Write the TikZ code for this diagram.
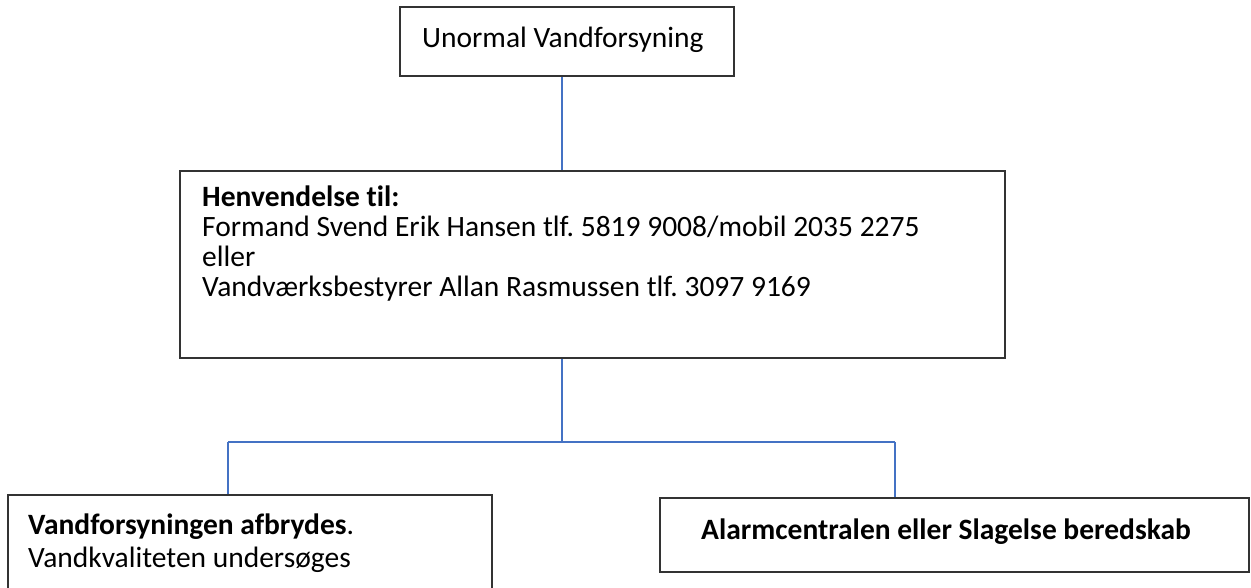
\documentclass[tikz,border=0pt]{standalone}
\usepackage{fontspec}
\setmainfont[Ligatures={NoCommon}]{Carlito}
\usepackage{tikz}
\definecolor{linkblue}{HTML}{4472C4}
\frenchspacing

\begin{document}
\begin{tikzpicture}[x=1pt,y=-1pt,link/.style={draw=linkblue,line width=1.6pt}]
\useasboundingbox (0,0) rectangle (1251,588);
\begin{scope}[every node/.style={rectangle,draw=black!80,line width=1.6pt,inner sep=0pt}]
	\node[minimum width=334pt,minimum height=69pt] (U) at (567,41.5) {};
	\node[minimum width=825pt,minimum height=187pt] (H) at (592.5,264.5) {};
	\node[minimum width=484pt,minimum height=115pt] (V) at (250,552.5) {};
	\node[minimum width=589pt,minimum height=74pt] (A) at (954.5,535) {};
\end{scope}

% base of a multi-line node is its last line
\begin{scope}[every node/.style={anchor=base west,inner sep=0pt,align=left,font=\fontsize{29.5}{30}\selectfont}]
	\node (Ut) at (422,48) {Unormal Vandforsyning};
	\node (Ht) at (202,297) {\textbf{Henvendelse til:}\\
		Formand Svend Erik Hansen tlf. 5819 9008/mobil 2035 2275\\
		eller\\
		Vandværksbestyrer Allan Rasmussen tlf. 3097 9169};
	\node (Vt) at (28,567) {\textbf{Vandforsyningen afbrydes}.\\[3pt]
		Vandkvaliteten undersøges};
	\node (At) at (701,539) {\textbf{Alarmcentralen eller Slagelse beredskab}};
\end{scope}

\coordinate (mid) at (562,442);
\coordinate (lft) at (228,442);
\coordinate (rgt) at (895,442);
\draw[link] (U.south -| mid) -- (H.north -| mid);
\draw[link] (H.south -| mid) -- (mid);
\draw[link] (lft) -- (rgt);
\draw[link] (lft) -- (V.north -| lft);
\draw[link] (rgt) -- (A.north -| rgt);
\end{tikzpicture}
\end{document}
